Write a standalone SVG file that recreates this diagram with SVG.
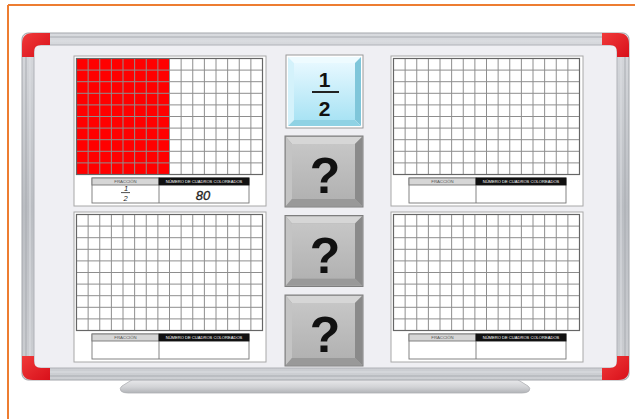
<svg xmlns="http://www.w3.org/2000/svg" xmlns:xlink="http://www.w3.org/1999/xlink" width="635" height="419" viewBox="0 0 635 419">
<style>
.hdr1{font-family:"Liberation Sans",Arial,sans-serif;font-size:4.3px;fill:#555;text-anchor:middle}
.hdr2{font-family:"Liberation Sans",Arial,sans-serif;font-size:4.1px;fill:#fff;text-anchor:middle}
.q{font-family:"Liberation Sans",Arial,sans-serif;font-weight:bold;font-size:50px;fill:#111;text-anchor:middle}
.frac{font-family:"Liberation Sans",Arial,sans-serif;font-weight:bold;font-size:21px;fill:#111;text-anchor:middle}
.hand{font-family:"Liberation Sans",Arial,sans-serif;font-style:italic;fill:#222;text-anchor:middle}
.gl{stroke:#8e8e8e;stroke-width:1;fill:none}
.gb{stroke:#666;stroke-width:1.2;fill:none}
.tb{stroke:#777;stroke-width:0.9;fill:#fff}
</style>
<defs>
<linearGradient id="frameH" x1="0" y1="0" x2="0" y2="1">
<stop offset="0" stop-color="#d8dade"/><stop offset="0.5" stop-color="#babdc2"/><stop offset="1" stop-color="#cdcfd3"/>
</linearGradient>
<linearGradient id="redG" x1="0" y1="0" x2="1" y2="1">
<stop offset="0" stop-color="#f03a3a"/><stop offset="1" stop-color="#d8101a"/>
</linearGradient>
<linearGradient id="blueFace" x1="0" y1="0" x2="0" y2="1">
<stop offset="0" stop-color="#e6f8ff"/><stop offset="1" stop-color="#a9e3f4"/>
</linearGradient>
<linearGradient id="greyFace" x1="0" y1="0" x2="0" y2="1">
<stop offset="0" stop-color="#c6c6c6"/><stop offset="1" stop-color="#b2b2b2"/>
</linearGradient>
<linearGradient id="trayG" x1="0" y1="0" x2="0" y2="1">
<stop offset="0" stop-color="#eeeef0"/><stop offset="0.6" stop-color="#d2d3d6"/><stop offset="1" stop-color="#b2b4b8"/>
</linearGradient>
<g id="gridlines">
<path class="gl" d="M14.125,2.5V118.5M25.75,2.5V118.5M37.375,2.5V118.5M49,2.5V118.5M60.625,2.5V118.5M72.25,2.5V118.5M83.875,2.5V118.5M95.5,2.5V118.5M107.125,2.5V118.5M118.75,2.5V118.5M130.375,2.5V118.5M142,2.5V118.5M153.625,2.5V118.5M165.25,2.5V118.5M176.875,2.5V118.5M2.5,14.1H188.5M2.5,25.7H188.5M2.5,37.3H188.5M2.5,48.9H188.5M2.5,60.5H188.5M2.5,72.1H188.5M2.5,83.7H188.5M2.5,95.3H188.5M2.5,106.9H188.5"/>
<rect class="gb" x="2.5" y="2.5" width="186" height="116"/>
</g>
<g id="panel">
<rect x="0" y="0" width="192" height="150" fill="#fff" stroke="#a8a8a8" stroke-width="1"/>
</g>
<g id="table">
<rect class="tb" x="18" y="122" width="157" height="25"/>
<rect x="18" y="122" width="67" height="7" fill="#d6d6d6" stroke="#777" stroke-width="0.9"/>
<rect x="85" y="122" width="90" height="7" fill="#111" stroke="#111" stroke-width="0.9"/>
<line x1="85" y1="129" x2="85" y2="147" stroke="#777" stroke-width="0.9"/>
<text class="hdr1" x="51.5" y="127.3">FRACCIÓN</text>
<text class="hdr2" x="130" y="127.2">NÚMERO DE CUADROS COLOREADOS</text>
</g>
</defs>
<rect width="635" height="419" fill="#fff"/>
<g id="page-border">
<line x1="8" y1="5" x2="635" y2="5" stroke="#ed7d31" stroke-width="2"/>
<line x1="8" y1="5" x2="8" y2="419" stroke="#ed7d31" stroke-width="2"/>
</g>
<g id="whiteboard">
<path d="M135,378 L515,378 L528,386 Q531,388 529,391 Q527,393 522,393 L128,393 Q123,393 121,391 Q119,388 122,386 Z" fill="url(#trayG)" stroke="#aeb0b4" stroke-width="0.8"/>
<rect x="22" y="33" width="607" height="347" rx="6" fill="url(#frameH)" stroke="#a3a6ab" stroke-width="1"/>
<rect x="26" y="37" width="599" height="339" rx="3" fill="none" stroke="#a9acb1" stroke-width="1"/>
<rect x="30" y="41" width="591" height="331" rx="2" fill="none" stroke="#dcdee2" stroke-width="1"/>
<rect x="34" y="45" width="583" height="323" fill="#efeff3" stroke="#b0b2b7" stroke-width="1"/>
<path d="M22,57 L22,44 Q22,33 33,33 L50,33 L50,45 L41,45 Q34,45 34,52 L34,57 Z" fill="url(#redG)"/>
<path d="M629,57 L629,44 Q629,33 618,33 L602,33 L602,45 L610,45 Q617,45 617,52 L617,57 Z" fill="url(#redG)"/>
<path d="M22,356 L22,369 Q22,380 33,380 L50,380 L50,368 L41,368 Q34,368 34,361 L34,356 Z" fill="url(#redG)"/>
<path d="M629,356 L629,369 Q629,380 618,380 L602,380 L602,368 L610,368 Q617,368 617,361 L617,356 Z" fill="url(#redG)"/>
</g>
<g id="panel-top-left" transform="translate(74,56)">
<use xlink:href="#panel"/>
<rect x="2.5" y="2.5" width="93" height="116" fill="#ff0000"/>
<use xlink:href="#gridlines"/>
<use xlink:href="#table"/>
<text class="hand" x="52" y="134.8" font-size="7.5">1</text>
<line x1="47" y1="136.6" x2="56" y2="136.6" stroke="#222" stroke-width="0.8"/>
<text class="hand" x="51.5" y="144.5" font-size="7.5">2</text>
<text class="hand" x="129" y="144" font-size="13" stroke="#222" stroke-width="0.3">80</text>
</g>
<g id="panel-bottom-left" transform="translate(74,212)">
<use xlink:href="#panel"/>
<use xlink:href="#gridlines"/>
<use xlink:href="#table"/>
</g>
<g id="panel-top-right" transform="translate(391,56)">
<use xlink:href="#panel"/>
<use xlink:href="#gridlines"/>
<use xlink:href="#table"/>
</g>
<g id="panel-bottom-right" transform="translate(391,212)">
<use xlink:href="#panel"/>
<use xlink:href="#gridlines"/>
<use xlink:href="#table"/>
</g>
<g id="button-half" transform="translate(286,55)">
<rect x="0" y="0" width="77" height="73" fill="#fff" stroke="#9a9a9a" stroke-width="1"/>
<polygon points="2,2 75,2 69,8 8,8" fill="#eefbff"/>
<polygon points="2,2 8,8 8,65 2,71" fill="#d4f2fb"/>
<polygon points="75,2 75,71 69,65 69,8" fill="#7fc6da"/>
<polygon points="2,71 75,71 69,65 8,65" fill="#8fd2e4"/>
<rect x="8" y="8" width="61" height="57" fill="url(#blueFace)"/>
<text class="frac" x="38.5" y="32">1</text>
<line x1="26" y1="37" x2="53" y2="37" stroke="#222" stroke-width="2"/>
<text class="frac" x="38.5" y="61">2</text>
</g>
<g id="button-q1" transform="translate(285,136)">
<rect x="0" y="0" width="78" height="71" fill="#a6a6a6" stroke="#7e7e7e" stroke-width="1"/>
<polygon points="1,1 77,1 70,8 7,8" fill="#d6d6d6"/>
<polygon points="1,1 7,8 7,63 1,70" fill="#c4c4c4"/>
<polygon points="77,1 77,70 70,63 70,8" fill="#8a8a8a"/>
<polygon points="1,70 77,70 70,63 7,63" fill="#999"/>
<rect x="7" y="8" width="63" height="55" fill="url(#greyFace)"/>
<text class="q" x="40" y="57">?</text>
</g>
<g id="button-q2" transform="translate(285,215.5)">
<rect x="0" y="0" width="78" height="71" fill="#a6a6a6" stroke="#7e7e7e" stroke-width="1"/>
<polygon points="1,1 77,1 70,8 7,8" fill="#d6d6d6"/>
<polygon points="1,1 7,8 7,63 1,70" fill="#c4c4c4"/>
<polygon points="77,1 77,70 70,63 70,8" fill="#8a8a8a"/>
<polygon points="1,70 77,70 70,63 7,63" fill="#999"/>
<rect x="7" y="8" width="63" height="55" fill="url(#greyFace)"/>
<text class="q" x="40" y="57">?</text>
</g>
<g id="button-q3" transform="translate(285,295)">
<rect x="0" y="0" width="78" height="71" fill="#a6a6a6" stroke="#7e7e7e" stroke-width="1"/>
<polygon points="1,1 77,1 70,8 7,8" fill="#d6d6d6"/>
<polygon points="1,1 7,8 7,63 1,70" fill="#c4c4c4"/>
<polygon points="77,1 77,70 70,63 70,8" fill="#8a8a8a"/>
<polygon points="1,70 77,70 70,63 7,63" fill="#999"/>
<rect x="7" y="8" width="63" height="55" fill="url(#greyFace)"/>
<text class="q" x="40" y="57">?</text>
</g>
<g id="connectors"/>
</svg>
